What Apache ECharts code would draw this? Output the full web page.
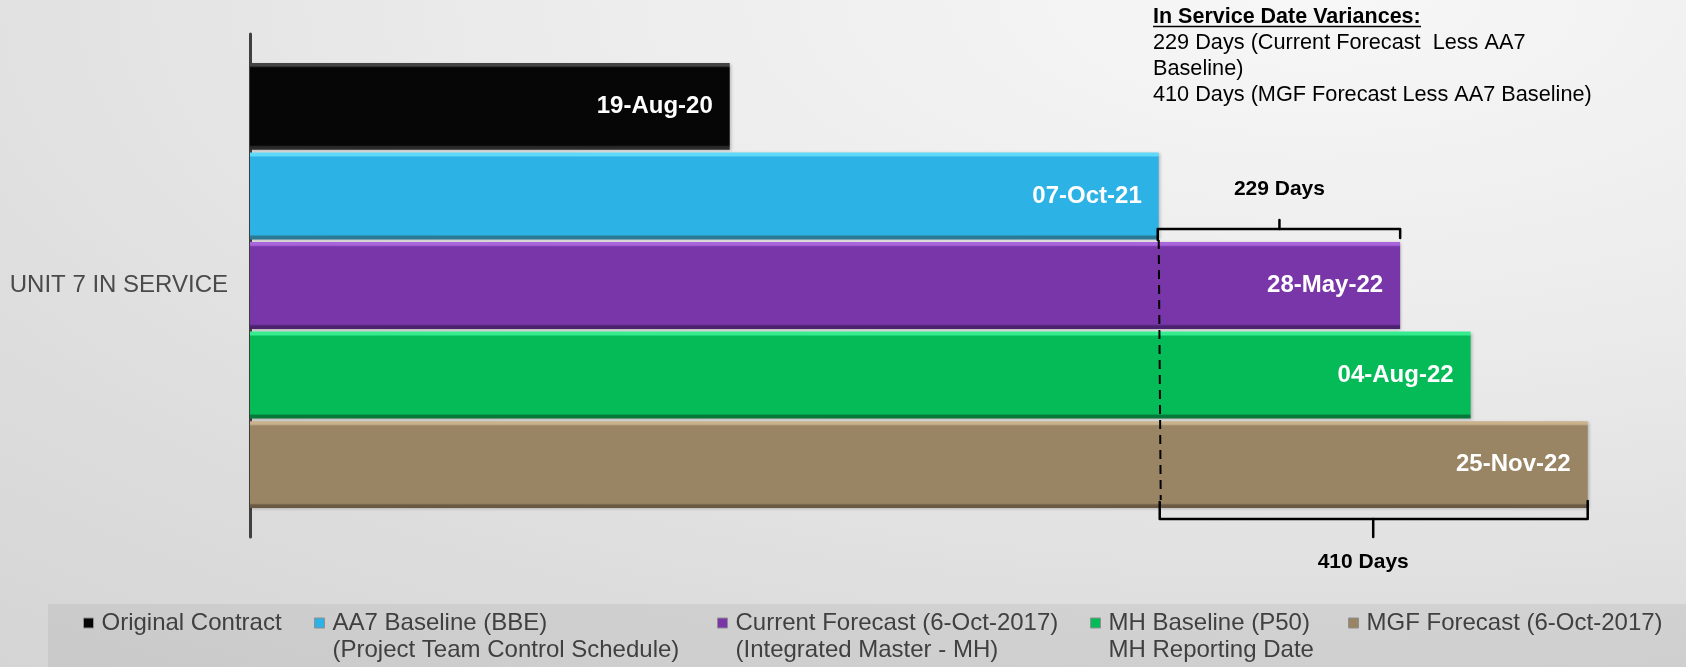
<!DOCTYPE html>
<html>
<head>
<meta charset="utf-8">
<title>Unit 7 In Service</title>
<script src="https://cdn.jsdelivr.net/npm/echarts@6/dist/echarts.min.js"></script>
<style>
  html, body { margin: 0; padding: 0; }
  body {
    width: 1686px; height: 667px; overflow: hidden;
    background: radial-gradient(ellipse 120% 130% at 78% 0%, #f7f7f7 0%, #ebebeb 40%, #dddddd 75%, #d5d5d5 100%);
  }
  #chart { width: 1686px; height: 667px; }
</style>
</head>
<body>
<div id="chart"></div>
<script>
// ---- data ----
const categories = ['UNIT 7 IN SERVICE'];
const seriesNames = [
  'Original Contract',
  'AA7 Baseline (BBE)',
  'Current Forecast (6-Oct-2017)',
  'MH Baseline (P50)',
  'MGF Forecast (6-Oct-2017)'
];
const seriesSubtitles = [
  '',
  '(Project Team Control Schedule)',
  '(Integrated Master - MH)',
  'MH Reporting Date',
  ''
];
const inServiceDates = ['2020-08-19', '2021-10-07', '2022-05-28', '2022-08-04', '2022-11-25'];
const axisStartDate = '2019-05-14';
const axisEndDate = '2022-12-06';
const varianceDays = [229, 410];
const notesTitle = 'In Service Date Variances:';
const notesLines = [
  '229 Days (Current Forecast  Less AA7',
  'Baseline)',
  '410 Days (MGF Forecast Less AA7 Baseline)'
];

// ---- helpers ----
const FONT = '"Liberation Sans", Arial, Helvetica, sans-serif';
const MONTHS = ['Jan','Feb','Mar','Apr','May','Jun','Jul','Aug','Sep','Oct','Nov','Dec'];
function toTime(s) { return Date.parse(s + 'T00:00:00Z'); }
function fmtDate(t) {
  const d = new Date(t);
  const dd = String(d.getUTCDate()).padStart(2, '0');
  return dd + '-' + MONTHS[d.getUTCMonth()] + '-' + String(d.getUTCFullYear()).slice(2);
}
// bevelled bar fill: light top edge, flat body, dark bottom edge
function bevel(light, base, dark) {
  return {
    type: 'linear', x: 0, y: 0, x2: 0, y2: 1,
    colorStops: [
      { offset: 0, color: light },
      { offset: 0.035, color: light },
      { offset: 0.055, color: base },
      { offset: 0.945, color: base },
      { offset: 0.965, color: dark },
      { offset: 1, color: dark }
    ]
  };
}

// ---- styles ----
const barFills = [
  bevel('#444444', '#060606', '#2a2a2a'),
  bevel('#5fd9fa', '#2db2e6', '#2a7a96'),
  bevel('#a966dc', '#7836a8', '#4c2270'),
  bevel('#35ec8e', '#05bb58', '#06793a'),
  bevel('#c9b18c', '#998463', '#6a5a44')
];
const legendLefts = [83, 314, 717, 1090, 1348];

const chart = echarts.init(document.getElementById('chart'), null, { renderer: 'canvas' });

const series = seriesNames.map((name, i) => ({
  name: name,
  type: 'bar',
  barGap: '3%',
  barCategoryGap: '11.5%',
  data: [[toTime(inServiceDates[i]), categories[0]]],
  itemStyle: {
    color: barFills[i],
    shadowColor: 'rgba(0,0,0,0.25)',
    shadowBlur: 3,
    shadowOffsetX: 1,
    shadowOffsetY: 1
  },
  label: {
    show: true,
    position: 'insideRight',
    distance: 17,
    formatter: p => fmtDate(p.value[0]),
    color: '#ffffff',
    fontFamily: FONT,
    fontWeight: 'bold',
    fontSize: 24
  },
  emphasis: { disabled: true }
}));

// Two-line legend entries get a blank leading line so the swatch,
// which sits at the middle of the text block, lines up with the first line.
const legends = seriesNames.map((name, i) => {
  const sub = seriesSubtitles[i];
  return {
    data: [name],
    left: legendLefts[i],
    top: sub ? 582.5 : 609.5,
    padding: 0,
    icon: 'rect',
    itemWidth: 10,
    itemHeight: 10,
    selectedMode: false,
    itemStyle: { borderColor: '#8f8f8f', borderWidth: 1 },
    formatter: n => sub ? ' \n' + n + '\n' + sub : n,
    textStyle: {
      fontFamily: FONT,
      fontSize: 24,
      lineHeight: 27,
      color: '#404040',
      padding: [0, 0, 0, 3]
    }
  };
});

chart.setOption({
  backgroundColor: 'transparent',
  animation: false,
  grid: { left: 250, right: 86.9, top: 34, bottom: 130 },
  xAxis: {
    type: 'time',
    min: toTime(axisStartDate),
    max: toTime(axisEndDate),
    show: false
  },
  yAxis: {
    type: 'category',
    data: categories,
    inverse: true,
    axisLine: { show: true, lineStyle: { color: '#404040', width: 3 } },
    axisTick: { show: false },
    splitLine: { show: false },
    axisLabel: {
      margin: 22,
      fontFamily: FONT,
      fontSize: 24,
      color: '#4a4a4a'
    }
  },
  legend: legends,
  series: series
});

// ---- annotations: variance braces, dashed reference, notes ----
const xBase = chart.convertToPixel({ xAxisIndex: 0 }, toTime(inServiceDates[1]));
const xCur = chart.convertToPixel({ xAxisIndex: 0 }, toTime(inServiceDates[2]));
const xMgf = chart.convertToPixel({ xAxisIndex: 0 }, toTime(inServiceDates[4]));
const midTop = (xBase + xCur) / 2;
const midBot = (xBase + xMgf) / 2;
const braceStyle = { stroke: '#000', lineWidth: 2.5, fill: null, lineJoin: 'round', lineCap: 'round' };

const graphics = [
  // legend band
  { type: 'rect', left: 48, top: 604, z: 1, silent: true,
    shape: { width: 1638, height: 63 }, style: { fill: 'rgba(0,0,0,0.055)' } },
  // dashed line at the baseline date
  { type: 'line', z: 100, silent: true,
    shape: { x1: xBase, y1: 240, x2: xBase + 2, y2: 500 },
    style: { stroke: '#000', lineWidth: 2, lineDash: [9, 6] } },
  // upper brace (current forecast less baseline)
  { type: 'polyline', z: 100, silent: true,
    shape: { points: [[xBase - 1, 240], [xBase - 1, 229], [xCur, 229], [xCur, 238]] },
    style: braceStyle },
  { type: 'line', z: 100, silent: true,
    shape: { x1: midTop, y1: 229, x2: midTop, y2: 220 }, style: braceStyle },
  { type: 'text', z: 100, silent: true, x: midTop, y: 189,
    style: { text: varianceDays[0] + ' Days', fill: '#000', font: 'bold 21px ' + FONT,
             textAlign: 'center', textVerticalAlign: 'middle' } },
  // lower brace (MGF forecast less baseline)
  { type: 'polyline', z: 100, silent: true,
    shape: { points: [[xBase + 1, 502], [xBase + 1, 519], [xMgf, 519], [xMgf, 501]] },
    style: braceStyle },
  { type: 'line', z: 100, silent: true,
    shape: { x1: midBot, y1: 519, x2: midBot, y2: 537 }, style: braceStyle },
  { type: 'text', z: 100, silent: true, x: midBot - 10, y: 562,
    style: { text: varianceDays[1] + ' Days', fill: '#000', font: 'bold 21px ' + FONT,
             textAlign: 'center', textVerticalAlign: 'middle' } },
  // notes block
  { type: 'text', z: 100, silent: true, x: 1153, y: 17,
    style: { text: notesTitle, fill: '#000', font: 'bold 21.5px ' + FONT, textVerticalAlign: 'middle' } },
  { type: 'line', z: 100, silent: true,
    shape: { x1: 1153, y1: 26.5, x2: 1421, y2: 26.5 }, style: { stroke: '#000', lineWidth: 1.5 } }
];
notesLines.forEach((t, i) => {
  graphics.push({ type: 'text', z: 100, silent: true, x: 1153, y: 43.5 + i * 25.8,
    style: { text: t, fill: '#000', font: '21.7px ' + FONT, textVerticalAlign: 'middle' } });
});

chart.setOption({ graphic: graphics });
</script>
</body>
</html>
